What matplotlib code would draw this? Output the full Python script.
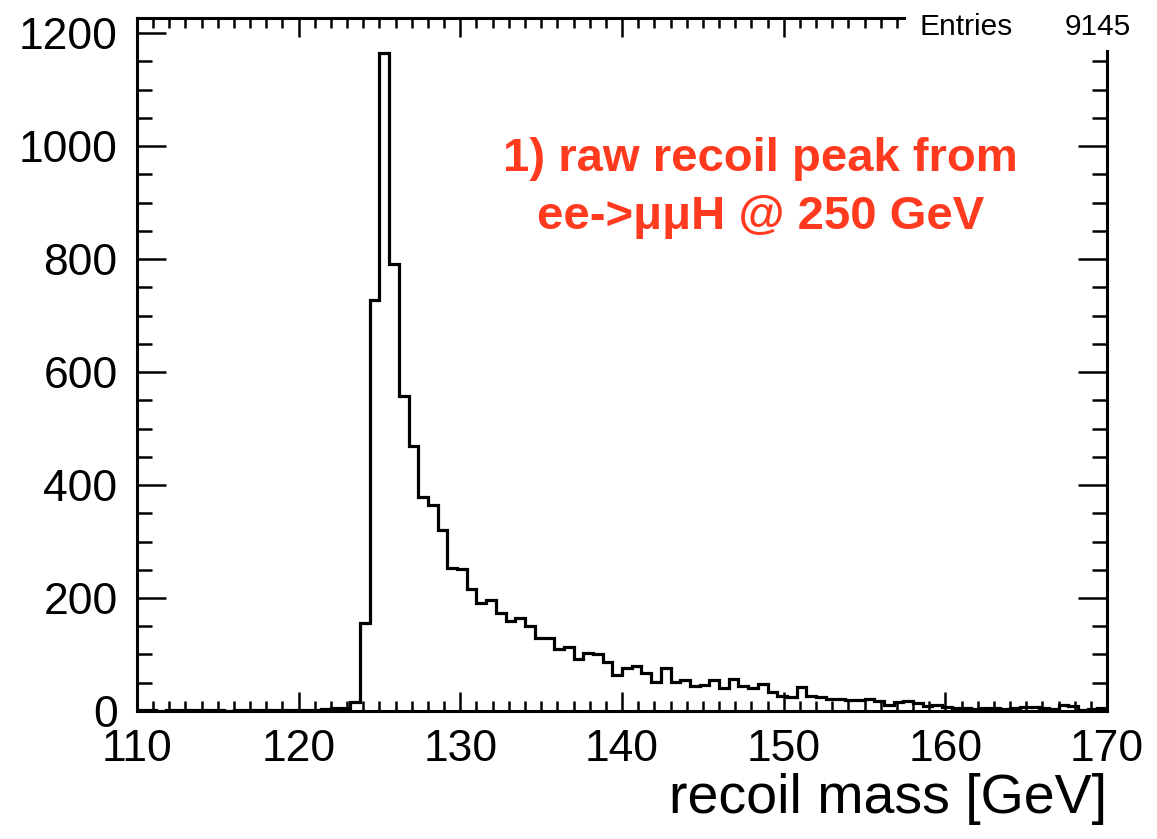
import numpy as np
import matplotlib
matplotlib.use("Agg")
import matplotlib.pyplot as plt
from matplotlib.patches import Rectangle
from matplotlib.ticker import MultipleLocator

plt.rcParams['font.family'] = ['Liberation Sans', 'DejaVu Sans']

# histogram: 100 bins of 0.6 GeV from 110 to 170
x_min, x_max, n_bins = 110, 170, 100
counts = [1, 1, 0, 1, 2, 2, 1, 1, 1, 0,
          1, 1, 1, 2, 1, 1, 1, 2, 2, 3,
          5, 6, 16, 155, 728, 1165, 792, 557, 469, 379,
          365, 320, 254, 251, 216, 192, 196, 173, 159, 165,
          150, 130, 129, 110, 114, 92, 102, 101, 87, 63,
          76, 80, 68, 51, 76, 51, 54, 44, 46, 54,
          41, 57, 44, 41, 47, 34, 27, 25, 43, 27,
          24, 22, 21, 19, 19, 22, 18, 10, 15, 18,
          14, 9, 10, 7, 5, 5, 3, 5, 5, 3,
          5, 7, 7, 5, 3, 10, 8, 2, 3, 5]
entries = 9145
label_lines = ["1) raw recoil peak from", "ee->μμH @ 250 GeV"]

edges = np.linspace(x_min, x_max, n_bins + 1)

fig = plt.figure(figsize=(11.57, 8.39), dpi=100)
ax = fig.add_axes([0.1184, 0.1526, 0.8384, 0.826])

ax.stairs(counts, edges, color='black', lw=2.3)

ax.set_xlim(x_min, x_max)
ax.set_ylim(0, 1227)
ax.xaxis.set_major_locator(MultipleLocator(10))
ax.xaxis.set_minor_locator(MultipleLocator(1))
ax.yaxis.set_major_locator(MultipleLocator(200))
ax.yaxis.set_minor_locator(MultipleLocator(50))

ax.tick_params(which='both', direction='in', top=True, right=True, width=1.8,
               labelsize=32)
ax.tick_params(axis='x', which='major', length=14, pad=13)
ax.tick_params(axis='x', which='minor', length=7)
ax.tick_params(axis='y', which='major', length=21, pad=14)
ax.tick_params(axis='y', which='minor', length=11)
for s in ax.spines.values():
    s.set_linewidth(2.2)

ax.set_xlabel("recoil mass [GeV]", fontsize=40, loc='right', labelpad=2)

ax.text(0.643, 0.755, "\n".join(label_lines), transform=ax.transAxes,
        ha='center', va='center', fontsize=34, fontweight='bold',
        color='#ff3a1f', linespacing=1.42)

# stats box
fig.add_artist(Rectangle((906 / 1157, 1 - 50 / 839), 1, 50 / 839,
                         transform=fig.transFigure, facecolor='white',
                         edgecolor='none', zorder=10))
fig.text(920 / 1157, 1 - 27 / 839, "Entries", fontsize=21.5, va='center',
         ha='left', zorder=11)
fig.text(1131 / 1157, 1 - 27 / 839, str(entries), fontsize=21.5, va='center',
         ha='right', zorder=11)

fig.savefig("out.png", dpi=100)
